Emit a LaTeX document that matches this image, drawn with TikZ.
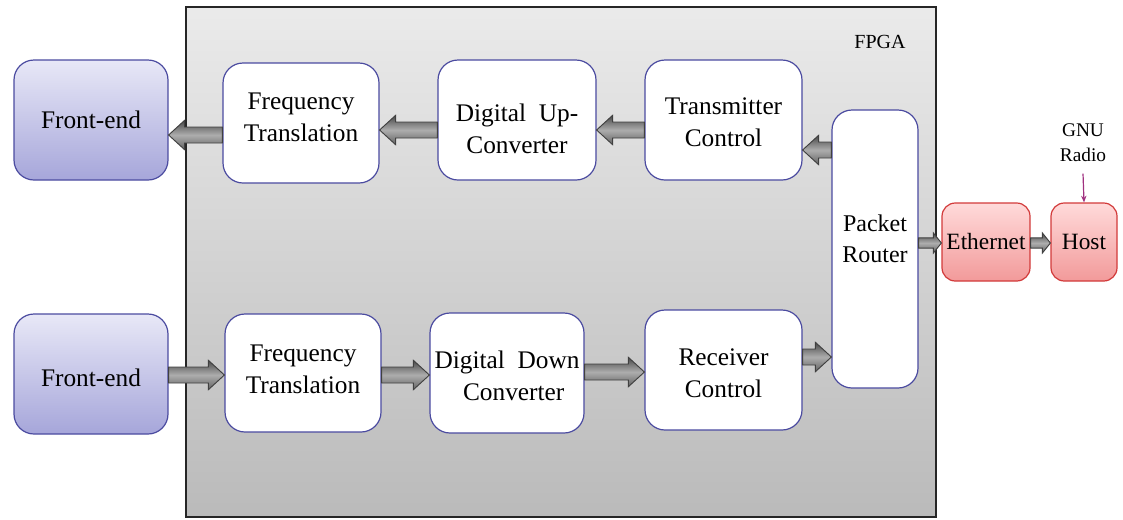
\documentclass[tikz,border=0pt]{standalone}
\usepackage{fontspec}
\setmainfont{Liberation Serif}
\usetikzlibrary{calc,arrows.meta}
\definecolor{boxedge}{HTML}{4B4BA0}
\definecolor{fetop}{HTML}{E8E8F7}
\definecolor{febot}{HTML}{A6A6DA}
\definecolor{redtop}{HTML}{FFDADA}
\definecolor{redbot}{HTML}{F29A9A}
\definecolor{rededge}{HTML}{D23A3A}
\definecolor{gnuarrow}{HTML}{A0307F}
% block-arrow geometry (shaft half height, head half height, head length)
\def\fsh{6pt}\def\fhw{11pt}\def\fhl{12pt}
% centred multi-line text moved up (+) or down (-) while keeping its box size
\newsavebox\btbox
\newlength\bth
\newlength\btd
\newcommand\boxtext[2]{%
  \sbox\btbox{\begin{tabular}{@{}c@{}}#2\end{tabular}}%
  \setlength\bth{\ht\btbox}\setlength\btd{\dp\btbox}%
  \raisebox{#1}[\bth][\btd]{\usebox\btbox}}
\begin{document}
\begin{tikzpicture}[x=0.75pt,y=-0.75pt,
  size/.style 2 args={minimum width=#1*0.75pt, minimum height=#2*0.75pt},
  block/.style={draw=boxedge, line width=0.9pt, rounded corners=15pt, fill=white,
    align=center, inner sep=0pt, font=\fontsize{19}{24}\selectfont},
  frontend/.style={block, top color=fetop, bottom color=febot},
  netbox/.style={draw=rededge, line width=0.9pt, rounded corners=10pt,
    top color=redtop, bottom color=redbot, align=center, inner sep=0pt,
    font=\fontsize{17.5}{22}\selectfont},
  smallarrow/.code={\def\fsh{3.8pt}\def\fhw{7.5pt}\def\fhl{6pt}},
  fat/.style={draw=black!75, line width=0.7pt,
    top color=black!72, bottom color=black!62, middle color=black!32,
    to path={let \p1=(\tikztostart), \p2=(\tikztotarget), \n1={sign(\x2-\x1)} in
      (\x1,\y1+\fsh) -- (\x2-\n1*\fhl,\y1+\fsh) -- (\x2-\n1*\fhl,\y1+\fhw)
      -- (\x2,\y1) -- (\x2-\n1*\fhl,\y1-\fhw) -- (\x2-\n1*\fhl,\y1-\fsh)
      -- (\x1,\y1-\fsh) -- cycle}},
]
\useasboundingbox (0,0) rectangle (1123,519);

% FPGA enclosure
\node[draw=black!85, line width=1.1pt, top color=black!8, bottom color=black!27,
  size={750}{510}, inner sep=0pt] (fpga) at (561,262) {};
\node[font=\fontsize{15}{18}\selectfont] (fpgalabel) at (880,42) {FPGA};

% blocks
\node[frontend, size={154}{120}] (fe1) at (91,120) {Front-end};
\node[frontend, size={154}{120}] (fe2) at (91,374) {\boxtext{-4.5pt}{Front-end}};
\node[block, size={156}{120}] (ft1) at (301,123) {\boxtext{3pt}{Frequency\\Translation}};
\node[block, size={158}{120}] (duc) at (517,120) {\boxtext{-8pt}{Digital\ \ Up-\\Converter}};
\node[block, size={157}{120}] (tc) at (723.5,120) {\boxtext{-3pt}{Transmitter\\Control}};
\node[block, size={86}{278}, font=\fontsize{18}{23}\selectfont] (pr) at (875,249)
  {\boxtext{6pt}{Packet\\Router}};
\node[block, size={156}{118}] (ft2) at (303,373) {\boxtext{1.5pt}{Frequency\\Translation}};
\node[block, size={154}{120}] (ddc) at (507,373)
  {\boxtext{-4pt}{Digital\ \ Down\\\hspace{10pt}Converter}};
\node[block, size={157}{120}] (rc) at (723.5,370) {\boxtext{-4pt}{Receiver\\Control}};

\node[netbox, size={88}{78}] (eth) at (986,242) {Ethernet};
\node[netbox, size={66}{78}] (host) at (1084,242) {Host};
\node[font=\fontsize{14.5}{19}\selectfont, align=center] (gnu) at (1083,143) {GNU\\Radio};
\draw[gnuarrow, line width=0.9pt, -{Stealth[length=5pt,width=4pt]}]
  ([yshift=-5pt]gnu.south) -- (host.north);

% transmit chain
\path[fat] (ft1.west |- 0,135) to (fe1.east |- 0,135);
\path[fat] (duc.west |- 0,130) to (ft1.east |- 0,130);
\path[fat] (tc.west |- 0,130) to (duc.east |- 0,130);
\path[fat] (pr.west |- 0,150) to (tc.east |- 0,150);
% receive chain
\path[fat] (fe2.east |- 0,375) to (ft2.west |- 0,375);
\path[fat] (ft2.east |- 0,375) to (ddc.west |- 0,375);
\path[fat] (ddc.east |- 0,372) to (rc.west |- 0,372);
\path[fat] (rc.east |- 0,357) to (pr.west |- 0,357);
% network side
\path[fat, smallarrow] (pr.east |- 0,243) to (eth.west |- 0,243);
\path[fat, smallarrow] (eth.east |- 0,243) to (host.west |- 0,243);
\end{tikzpicture}
\end{document}
